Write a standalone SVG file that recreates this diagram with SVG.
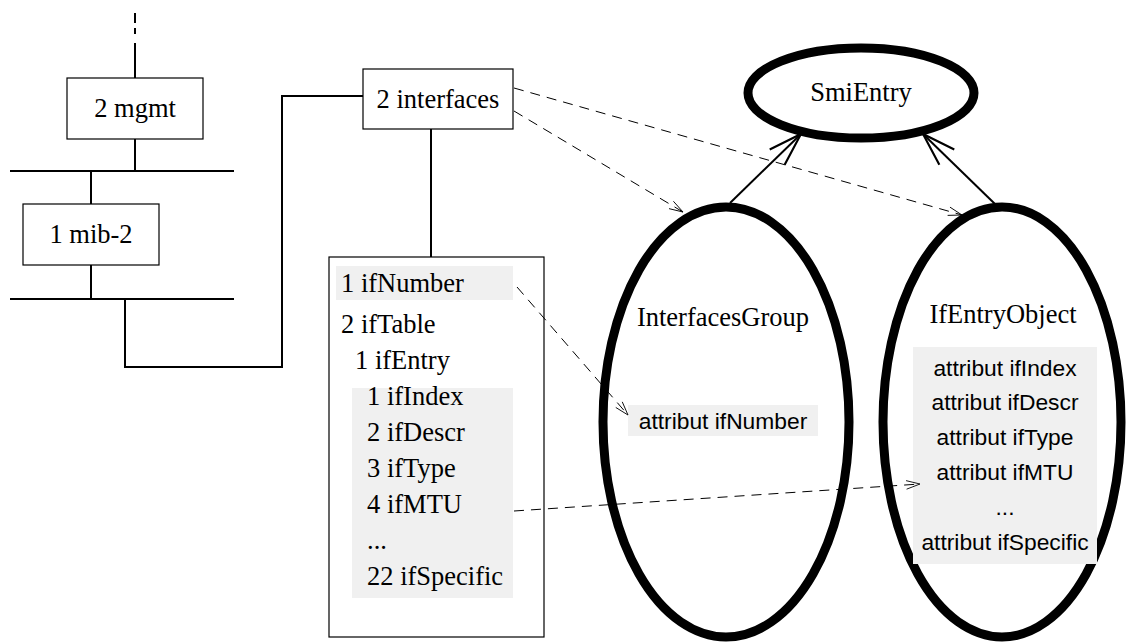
<svg xmlns="http://www.w3.org/2000/svg" width="1127" height="642" viewBox="0 0 1127 642">
  <style>
    .box { fill: #ffffff; stroke: #000000; stroke-width: 1.2; }
    .tree { fill: none; stroke: #000000; stroke-width: 2; }
    .serif { font-family: "Liberation Serif", "Times New Roman", serif; font-size: 26.5px; fill: #000000; }
    .sans { font-family: "Liberation Sans", Arial, sans-serif; font-size: 22.8px; fill: #000000; }
    .mid { text-anchor: middle; }
    .shade { fill: #f0f0f0; stroke: none; }
    .cls { fill: none; stroke: #000000; stroke-width: 9; }
    .inherit { fill: none; stroke: #000000; stroke-width: 2; marker-end: url(#openBig); }
    .ref { fill: none; stroke: #000000; stroke-width: 1; stroke-dasharray: 10 7; marker-end: url(#openSmall); }
  </style>
  <defs>
    <marker id="openBig" markerUnits="userSpaceOnUse" markerWidth="40" markerHeight="30" refX="0" refY="0" viewBox="-34 -14 36 28" orient="auto" overflow="visible">
      <path d="M -31 -10 L 0 0 L -31 10" fill="none" stroke="#000000" stroke-width="2"/>
    </marker>
    <marker id="openSmall" markerUnits="userSpaceOnUse" markerWidth="20" markerHeight="12" refX="0" refY="0" viewBox="-18 -7 20 14" orient="auto" overflow="visible">
      <path d="M -16 -5 L 0 0 L -16 5" fill="none" stroke="#000000" stroke-width="1"/>
    </marker>
  </defs>

  <g id="mgmt">
    <rect class="box" x="67" y="78" width="136" height="61"/>
    <text class="serif mid" x="135" y="117">2 mgmt</text>
  </g>

  <g id="mib-2">
    <rect class="box" x="23" y="204" width="136" height="61"/>
    <text class="serif mid" x="91" y="243">1 mib-2</text>
  </g>

  <g id="interfaces">
    <rect class="box" x="363" y="69" width="150" height="60"/>
    <text class="serif mid" x="438" y="108">2 interfaces</text>
  </g>

  <g id="interfaces-table">
    <rect class="box" x="329" y="257" width="215" height="380"/>
    <rect class="shade" x="336" y="266" width="177" height="34"/>
    <rect class="shade" x="352" y="388" width="161" height="210"/>
    <text class="serif" x="341" y="292">1 ifNumber</text>
    <text class="serif" x="341" y="333">2 ifTable</text>
    <text class="serif" x="355" y="369">1 ifEntry</text>
    <text class="serif" x="367" y="405">1 ifIndex</text>
    <text class="serif" x="367" y="441">2 ifDescr</text>
    <text class="serif" x="367" y="477">3 ifType</text>
    <text class="serif" x="367" y="513">4 ifMTU</text>
    <text class="serif" x="367" y="549">...</text>
    <text class="serif" x="367" y="585">22 ifSpecific</text>
  </g>

  <g id="SmiEntry">
    <ellipse class="cls" cx="861" cy="93" rx="113" ry="45"/>
    <text class="serif mid" x="861" y="101">SmiEntry</text>
  </g>

  <g id="InterfacesGroup">
    <ellipse class="cls" cx="726" cy="422" rx="123" ry="215"/>
    <text class="serif mid" x="723" y="326">InterfacesGroup</text>
    <rect class="shade" x="628" y="405" width="190" height="31"/>
    <text class="sans mid" x="723" y="429">attribut ifNumber</text>
  </g>

  <g id="IfEntryObject">
    <ellipse class="cls" cx="1002" cy="422" rx="119" ry="215"/>
    <text class="serif mid" x="1003" y="323">IfEntryObject</text>
    <rect class="shade" x="913" y="347" width="184" height="217"/>
    <text class="sans mid" x="1005" y="376">attribut ifIndex</text>
    <text class="sans mid" x="1005" y="410">attribut ifDescr</text>
    <text class="sans mid" x="1005" y="445">attribut ifType</text>
    <text class="sans mid" x="1005" y="480">attribut ifMTU</text>
    <text class="sans mid" x="1005" y="515">...</text>
    <text class="sans mid" x="1005" y="550">attribut ifSpecific</text>
  </g>

  <!-- tree lines, inheritance and mapping arrows -->
  <g id="connectors">
    <path class="tree" d="M135 13 V23 M135 28 V34 M135 43 V78"/>
    <path class="tree" d="M135 139 V171"/>
    <path class="tree" d="M10 171 H234"/>
    <path class="tree" d="M91 171 V204"/>
    <path class="tree" d="M91 265 V299"/>
    <path class="tree" d="M10 299 H234"/>
    <path class="tree" d="M125 299 V367 H282 V96 H363"/>
    <path class="tree" d="M431 129 V257"/>
    <line class="inherit" x1="730" y1="203" x2="801" y2="134"/>
    <line class="inherit" x1="995" y1="204" x2="923" y2="134"/>
    <line class="ref" x1="514" y1="88" x2="962" y2="215"/>
    <line class="ref" x1="514" y1="111" x2="683" y2="212"/>
    <line class="ref" x1="517" y1="287" x2="628" y2="415"/>
    <line class="ref" x1="514" y1="511" x2="920" y2="484"/>
  </g>
</svg>
